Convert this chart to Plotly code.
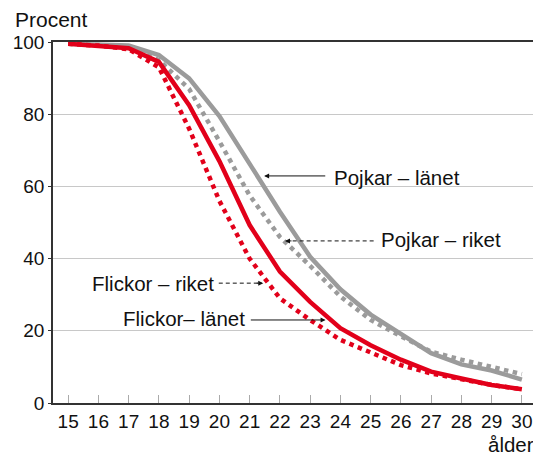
import plotly.graph_objects as go

ages = list(range(15, 31))
tick_labels = [str(a) for a in ages]

pojkar_lanet = [99.5, 99.3, 99.0, 96.4, 89.9, 79.5, 66.0, 53.0, 40.5, 31.5, 24.5, 19.0, 13.8, 10.7, 9.0, 6.5]
pojkar_riket = [99.5, 99.3, 98.8, 95.0, 87.0, 72.5, 57.5, 46.0, 38.0, 29.5, 23.0, 18.5, 14.2, 12.0, 10.0, 8.0]
flickor_lanet = [99.5, 99.0, 98.3, 94.5, 82.5, 67.0, 49.3, 36.4, 28.0, 20.7, 16.0, 12.0, 8.7, 6.8, 5.0, 3.8]
flickor_riket = [99.5, 99.0, 98.0, 93.0, 76.0, 56.0, 40.0, 29.0, 23.0, 17.5, 14.0, 10.5, 8.2, 6.5, 5.0, 3.8]

GRAY = "#9b9b9b"
RED = "#e2001a"
FONT = "Liberation Sans, Arial, sans-serif"

fig = go.Figure()
series = [
    ("Pojkar – riket", pojkar_riket, GRAY, "dot"),
    ("Pojkar – länet", pojkar_lanet, GRAY, "solid"),
    ("Flickor – riket", flickor_riket, RED, "dot"),
    ("Flickor – länet", flickor_lanet, RED, "solid"),
]
for name, vals, col, dash in series:
    fig.add_trace(go.Scatter(x=ages, y=vals, mode="lines", name=name,
                             line=dict(color=col, width=4.5, dash=dash),
                             showlegend=False, hoverinfo="x+y"))

# labels with arrows: (text, text_x, text_y, anchor, tail_x, head_x, arrow_y, dashed)
labels = [
    ("Pojkar – länet", 23.72, 62.6, "left", 23.55, 21.48, 62.9, False),
    ("Pojkar – riket", 25.27, 45.2, "left", 25.1, 22.17, 44.9, True),
    ("Flickor – riket", 19.90, 33.2, "right", 19.98, 21.45, 33.2, True),
    ("Flickor– länet", 20.91, 23.3, "right", 20.99, 23.51, 23.0, False),
]
for text, tx, ty, anchor, tail, head, ay, dashed in labels:
    fig.add_annotation(x=tx, y=ty, text=text, showarrow=False, xanchor=anchor,
                       yanchor="middle", font=dict(family=FONT, size=20.5, color="#111"))
    direction = 1 if head > tail else -1
    if dashed:
        fig.add_shape(type="line", x0=tail, x1=head - direction * 0.15, y0=ay, y1=ay,
                      line=dict(color="#111", width=1, dash="4px,3px"))
        fig.add_annotation(x=head, y=ay, text="", showarrow=True, arrowhead=2,
                           arrowsize=1, arrowwidth=1, arrowcolor="#111",
                           ax=-direction * 8, ay=0)
    else:
        fig.add_annotation(x=head, y=ay, text="", showarrow=True, arrowhead=2,
                           arrowsize=1, arrowwidth=1, arrowcolor="#111",
                           axref="x", ayref="y", ax=tail, ay=ay)

fig.add_annotation(x=0, y=1, xref="paper", yref="paper", xanchor="left", yanchor="bottom",
                   text="Procent", showarrow=False, yshift=9, xshift=-40,
                   font=dict(family=FONT, size=21, color="#111"))
fig.add_annotation(x=1, y=0, xref="paper", yref="paper", xanchor="right", yanchor="top",
                   text="ålder", showarrow=False, yshift=-28, xshift=-1,
                   font=dict(family=FONT, size=20.5, color="#111"))

fig.update_layout(
    width=533, height=448,
    margin=dict(l=45, r=2, t=34, b=53),
    paper_bgcolor="white", plot_bgcolor="white",
    font=dict(family=FONT, size=19, color="#111"),
)
fig.update_xaxes(range=[14.5, 30.5], tickmode="array", tickvals=ages, ticktext=tick_labels,
                 ticks="inside", ticklen=8, tickcolor="#aaaaaa", tickwidth=1,
                 showgrid=False, zeroline=False, showline=True, linecolor="#333",
                 linewidth=2, mirror=True, tickfont=dict(size=19))
fig.update_yaxes(range=[0, 100], tickvals=[0, 20, 40, 60, 80, 100],
                 ticks="outside", ticklen=3, tickcolor="#333",
                 showgrid=True, gridcolor="#c8c8c8", gridwidth=1, zeroline=False,
                 showline=True, linecolor="#333", linewidth=1.5, mirror=True,
                 tickfont=dict(size=19))

fig.write_html("out.html")
